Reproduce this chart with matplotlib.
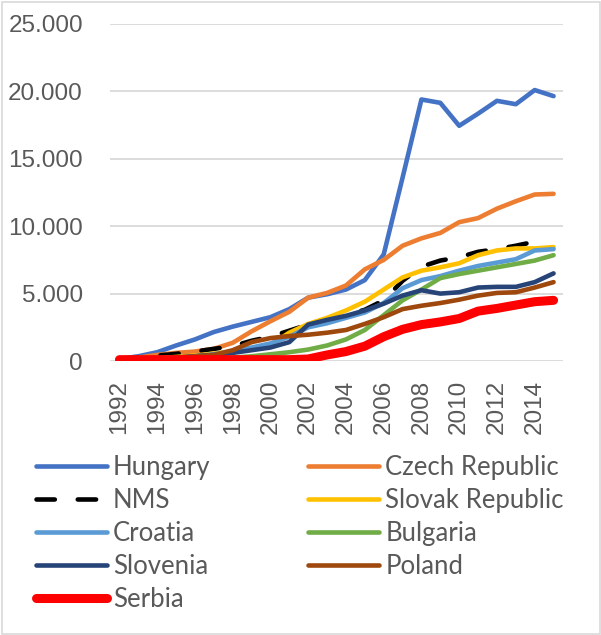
import numpy as np
import matplotlib
matplotlib.use("Agg")
import matplotlib.pyplot as plt
from matplotlib.ticker import FuncFormatter
from matplotlib.patches import Rectangle

years = list(range(1992, 2016))

hungary = [150, 350, 650, 1150, 1600, 2150, 2550, 2900, 3250, 3850, 4700, 4950,
           5300, 6000, 7900, 13600, 19400, 19150, 17450, 18350, 19300, 19050, 20100, 19650]
czech = [100, 250, 450, 600, 700, 900, 1350, 2200, 2950, 3650, 4700, 5050,
         5600, 6800, 7500, 8550, 9100, 9500, 10300, 10600, 11300, 11850, 12350, 12400]
nms = [100, 250, 400, 530, 700, 900, 1100, 1500, 1800, 2250, 2700, 3000,
       3400, 3800, 4500, 5950, 7000, 7450, 7700, 8100, 8300, 8550, 8850]
slovak = [50, 100, 200, 300, 400, 550, 700, 900, 1200, 2100, 2750, 3200,
          3750, 4400, 5300, 6200, 6700, 6950, 7250, 7850, 8200, 8350, 8350, 8450]
croatia = [0, 50, 100, 200, 350, 500, 700, 1000, 1300, 1800, 2500, 2800,
           3200, 3600, 4300, 5400, 6000, 6300, 6700, 7050, 7300, 7550, 8200, 8300]
bulgaria = [0, 20, 50, 80, 100, 150, 250, 350, 500, 650, 850, 1150,
            1600, 2300, 3400, 4500, 5300, 6150, 6450, 6700, 6950, 7200, 7450, 7850]
slovenia = [50, 100, 150, 250, 350, 450, 600, 800, 1000, 1400, 2700, 3050,
            3350, 3750, 4250, 4850, 5250, 5000, 5100, 5450, 5500, 5500, 5850, 6500]
poland = [50, 100, 150, 250, 350, 450, 800, 1400, 1700, 1850, 1950, 2100,
          2300, 2750, 3250, 3850, 4100, 4300, 4550, 4850, 5050, 5100, 5450, 5850]
serbia = [100, 100, 100, 100, 100, 100, 100, 100, 100, 100, 150, 450,
          700, 1100, 1800, 2350, 2700, 2900, 3150, 3700, 3900, 4150, 4400, 4500]

series = [
    ("Hungary", hungary, "#4472C4"),
    ("Czech Republic", czech, "#ED7D31"),
    ("NMS", nms, "black"),
    ("Slovak Republic", slovak, "#FFC000"),
    ("Croatia", croatia, "#5B9BD5"),
    ("Bulgaria", bulgaria, "#70AD47"),
    ("Slovenia", slovenia, "#264478"),
    ("Poland", poland, "#9E480E"),
    ("Serbia", serbia, "#FF0000"),
]

fig = plt.figure(figsize=(6.01, 6.35), dpi=100)
ax = fig.add_axes([110 / 601, 1 - 361 / 635, 453 / 601, 337 / 635])

lines = {}
for name, vals, col in series:
    x = years[:len(vals)]
    if name == "NMS":
        ln, = ax.plot(x, vals, color=col, lw=3.3, dashes=(4, 5),
                      dash_capstyle="round", solid_joinstyle="round")
    elif name == "Serbia":
        ln, = ax.plot(x, vals, color=col, lw=6.5, solid_capstyle="round",
                      solid_joinstyle="round")
    else:
        ln, = ax.plot(x, vals, color=col, lw=3.3, solid_capstyle="round",
                      solid_joinstyle="round")
    lines[name] = ln

ax.set_xlim(1991.5, 2015.5)
ax.set_ylim(0, 25000)
ax.set_yticks(range(0, 25001, 5000))
ax.yaxis.set_major_formatter(FuncFormatter(lambda v, p: f"{int(v):,}".replace(",", ".")))
ax.set_xticks(years[::2])
ax.set_xticklabels([str(y) for y in years[::2]], rotation=90)
ax.grid(axis="y", color="#D9D9D9", lw=1.3)
ax.set_axisbelow(True)
for s in ax.spines.values():
    s.set_visible(False)
ax.tick_params(length=0, labelsize=17.5, colors="#595959", labelfontfamily="Liberation Sans")
ax.tick_params(axis="y", pad=19.5)
ax.tick_params(axis="x", pad=13.5)

order = ["Hungary", "NMS", "Croatia", "Slovenia", "Serbia",
         "Czech Republic", "Slovak Republic", "Bulgaria", "Poland"]
leg = fig.legend([lines[n] for n in order], order, ncol=2, loc="upper left",
                 bbox_to_anchor=(36 / 601, 1 - 455 / 635), frameon=False,
                 prop={"family": "Lato", "size": 18.5}, handlelength=2.77,
                 handletextpad=0.23, columnspacing=3.8, labelspacing=0.31,
                 borderaxespad=0, borderpad=0)
for t in leg.get_texts():
    t.set_color("#595959")

fig.add_artist(Rectangle((1.5 / 601, 1.5 / 635), 598 / 601, 632 / 635,
                         transform=fig.transFigure, fill=False,
                         edgecolor="#D9D9D9", lw=1.2))

plt.savefig("out.png", dpi=100)
